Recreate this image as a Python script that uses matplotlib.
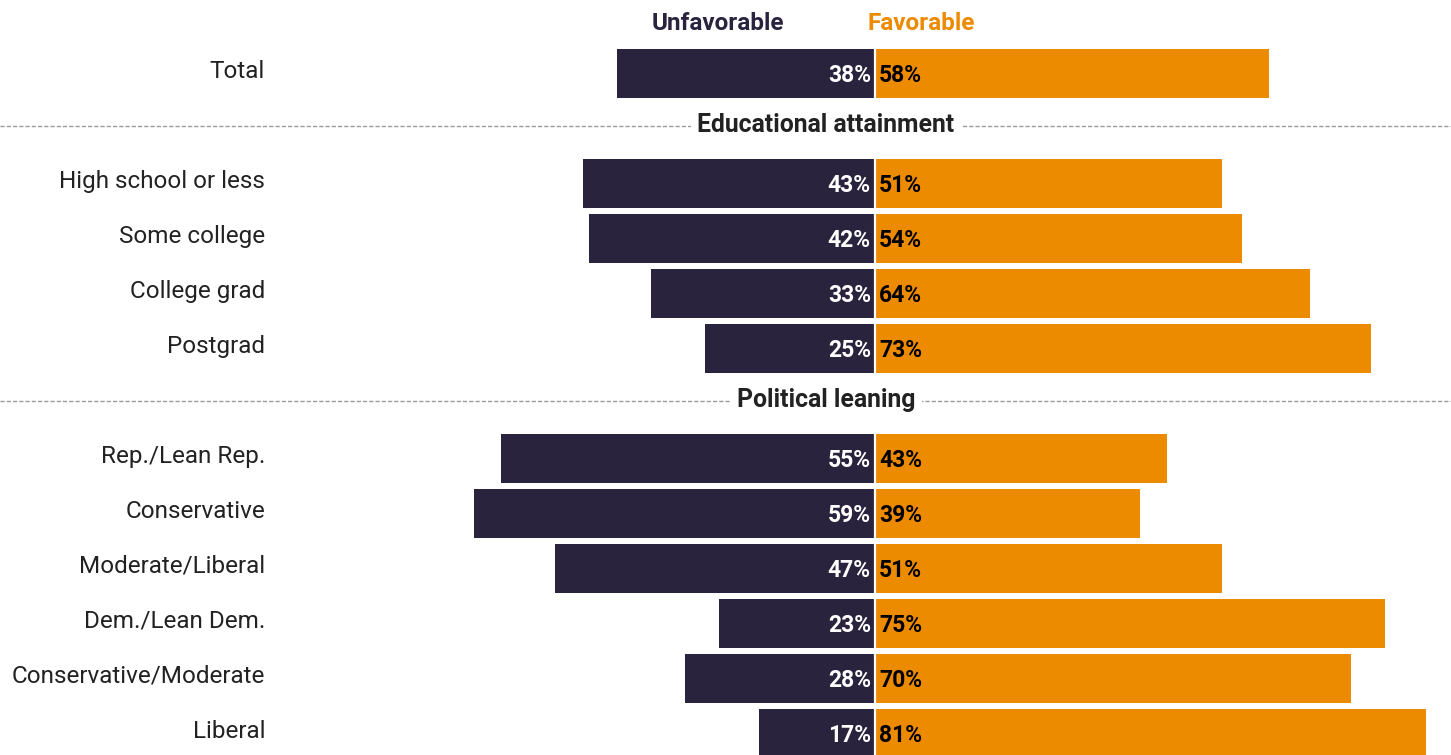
import matplotlib
matplotlib.use("Agg")
import matplotlib.pyplot as plt

plt.rcParams["font.family"] = ["Roboto", "DejaVu Sans"]

DARK = "#29233e"
ORANGE = "#ec8a00"

# data: overall row, then grouped rows
total_label = "Total"
total_unfav = 38
total_fav = 58

edu_header = "Educational attainment"
edu_cats = ["High school or less", "Some college", "College grad", "Postgrad"]
edu_unfav = [43, 42, 33, 25]
edu_fav = [51, 54, 64, 73]

pol_header = "Political leaning"
pol_cats = ["Rep./Lean Rep.", "Conservative", "Moderate/Liberal",
            "Dem./Lean Dem.", "Conservative/Moderate", "Liberal"]
pol_unfav = [55, 59, 47, 23, 28, 17]
pol_fav = [43, 39, 51, 75, 70, 81]

# build slot layout: one slot per row, headers take a slot too
rows = [(total_label, total_unfav, total_fav)]
headers = []
for hdr, cats, un, fa in [(edu_header, edu_cats, edu_unfav, edu_fav),
                          (pol_header, pol_cats, pol_unfav, pol_fav)]:
    headers.append((hdr, len(rows) + len(headers)))
    rows.extend(zip(cats, un, fa))

ypos = []
slot = 0
hdr_slots = {s for _, s in headers}
for _ in rows:
    while slot in hdr_slots:
        slot += 1
    ypos.append(slot)
    slot += 1

fig = plt.figure(figsize=(14.51, 7.55), dpi=100)
ax = fig.add_axes([0, 0, 1, 1])
px = 6.8  # pixels per percentage point
ax.set_xlim(-875 / px, 576 / px)
ax.set_ylim(12.39, -1.336)
ax.axis("off")

labels = [r[0] for r in rows]
unfav = [r[1] for r in rows]
fav = [r[2] for r in rows]

ax.barh(ypos, [-u for u in unfav], height=0.9, color=DARK, linewidth=0)
ax.barh(ypos, fav, height=0.9, color=ORANGE, linewidth=0)
ax.axvline(0, color="white", linewidth=1.6)

for y, lab, u, f in zip(ypos, labels, unfav, fav):
    ax.text(-89.7, y - 0.04, lab, ha="right", va="center", fontsize=17.5, color="#222222")
    ax.text(-0.6, y + 0.03, f"{u}%", ha="right", va="center", fontsize=16.5,
            fontweight="bold", color="white")
    ax.text(0.6, y + 0.03, f"{f}%", ha="left", va="center", fontsize=16.5,
            fontweight="bold", color="black")

for hdr, s in headers:
    ax.axhline(s - 0.05, color="#9a9a9a", linewidth=1, linestyle=(0, (3, 1.5)))
    ax.text(-7.2, s - 0.06, hdr, ha="center", va="center", fontsize=17.8,
            fontweight="bold", color="#222222",
            bbox=dict(facecolor="white", edgecolor="none", pad=5))

ax.text(-23.1, -0.91, "Unfavorable", ha="center", va="center", fontsize=17.5,
        fontweight="bold", color=DARK)
ax.text(6.8, -0.91, "Favorable", ha="center", va="center", fontsize=17.5,
        fontweight="bold", color=ORANGE)

fig.savefig("out.png", dpi=100)
